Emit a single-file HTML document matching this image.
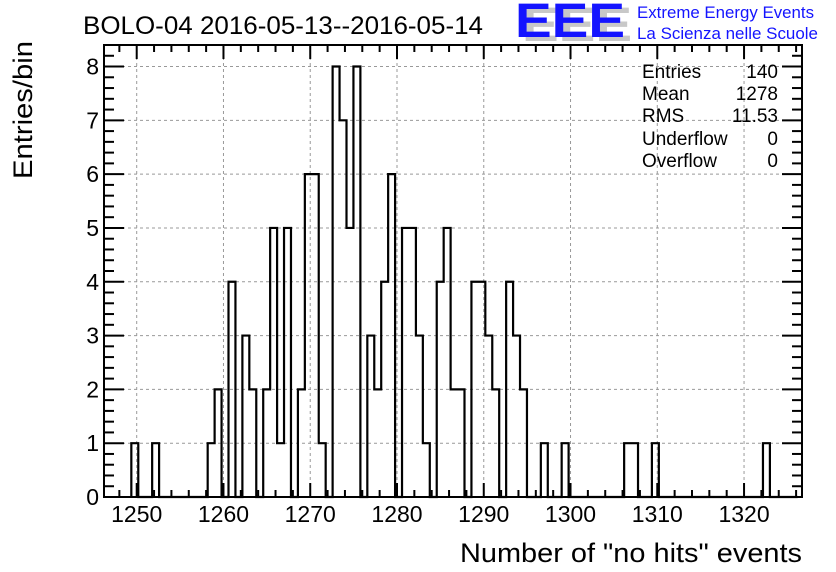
<!DOCTYPE html>
<html><head><meta charset="utf-8"><style>
body{margin:0;background:#fff;}
svg{display:block;font-family:"Liberation Sans",sans-serif;}
</style></head><body>
<svg id="chart" width="836" height="572" viewBox="0 0 836 572">
<text x="83" y="34" font-size="25" textLength="400" lengthAdjust="spacingAndGlyphs">BOLO-04 2016-05-13--2016-05-14</text>
<g>
<text x="522" y="41" font-size="48" font-weight="bold" fill="#c8c8c8" textLength="110" lengthAdjust="spacingAndGlyphs">EEE</text>
<text x="515" y="37" font-size="48" font-weight="bold" fill="#1414ff" textLength="110" lengthAdjust="spacingAndGlyphs">EEE</text>
<text x="637" y="18" font-size="17" fill="#1414ff" textLength="177" lengthAdjust="spacingAndGlyphs">Extreme Energy Events</text>
<text x="637" y="39" font-size="17" fill="#1414ff" textLength="181" lengthAdjust="spacingAndGlyphs">La Scienza nelle Scuole</text>
</g>
<g id="grid"></g>
<g id="hist"></g>
<rect x="104" y="45" width="698" height="452" fill="none" stroke="#000" stroke-width="2"/>
<g id="axes"></g>
<text transform="translate(32,110) rotate(-90)" text-anchor="middle" font-size="27" textLength="138" lengthAdjust="spacingAndGlyphs">Entries/bin</text>
<text x="802" y="562" text-anchor="end" font-size="27" textLength="342" lengthAdjust="spacingAndGlyphs">Number of "no hits" events</text>
<g font-size="19">
<text x="642" y="78">Entries</text><text x="778" y="78" text-anchor="end">140</text>
<text x="642" y="100">Mean</text><text x="778" y="100" text-anchor="end">1278</text>
<text x="642" y="122">RMS</text><text x="778" y="122" text-anchor="end">11.53</text>
<text x="642" y="145">Underflow</text><text x="778" y="145" text-anchor="end">0</text>
<text x="642" y="167">Overflow</text><text x="778" y="167" text-anchor="end">0</text>
</g>
</svg>
<script>
const binStart = 1249.38;
const binWidth = 0.8;
const binIndex = [0,3,11,12,14,16,17,19,20,21,22,24,25,26,27,29,30,31,32,34,35,36,37,39,40,41,42,44,45,46,47,49,50,51,52,54,55,56,59,62,71,72,75,91];
const binCounts = [1,1,1,2,4,3,2,2,5,1,5,2,6,6,1,8,7,5,8,3,2,4,6,5,5,3,1,4,5,2,2,4,4,3,2,4,3,2,1,1,1,1,1,1];
const xTicks = [1250,1260,1270,1280,1290,1300,1310,1320];
const yTicks = [0,1,2,3,4,5,6,7,8];
const NS = "http://www.w3.org/2000/svg";
const X0=104,X1=802,Y0=497,Y1=45, xmin=1246.23, xmax=1326.68, ymin=0, ymax=8.4;
const xs = v => X0+(v-xmin)/(xmax-xmin)*(X1-X0);
const ys = v => Y0-(v-ymin)/(ymax-ymin)*(Y0-Y1);
function mk(tag, attrs, parent){const e=document.createElementNS(NS,tag);for(const k in attrs)e.setAttribute(k,attrs[k]);parent.appendChild(e);return e;}
const grid=document.getElementById('grid'), axes=document.getElementById('axes'), hist=document.getElementById('hist');
xTicks.forEach(t=>{
  const g=mk('line',{x1:xs(t),x2:xs(t),y1:Y1,y2:Y0,stroke:'#999','stroke-dasharray':'3,3','stroke-width':1},grid);
  
  
  const l=mk('text',{x:xs(t),y:522,'text-anchor':'middle','font-size':23},axes);
  l.textContent=t;
  
  
});
for(let v=1248; v<=1326; v+=2){
  const major = v%10===0;
  const len = major?14:7;
  mk('line',{x1:xs(v),x2:xs(v),y1:Y0,y2:Y0-len,stroke:'#000','stroke-width':2},axes);
  mk('line',{x1:xs(v),x2:xs(v),y1:Y1,y2:Y1+len,stroke:'#000','stroke-width':2},axes);
}
yTicks.forEach(t=>{
  if(t>0){
    const g=mk('line',{x1:X0,x2:X1,y1:ys(t),y2:ys(t),stroke:'#999','stroke-dasharray':'3,3','stroke-width':1},grid);
    
    
  }
  const l=mk('text',{x:99,y:ys(t)+8,'text-anchor':'end','font-size':23},axes);
  l.textContent=t;
  
  
});
for(let v=0; v<=8.4; v+=0.2){
  const major=Math.abs(v-Math.round(v))<1e-6;
  const len=major?20:10;
  mk('line',{x1:X0,x2:X0+len,y1:ys(v),y2:ys(v),stroke:'#000','stroke-width':2},axes);
  mk('line',{x1:X1,x2:X1-len,y1:ys(v),y2:ys(v),stroke:'#000','stroke-width':2},axes);
}
const nb = 100;
const counts = new Array(nb).fill(0);
binIndex.forEach((b,i)=>{counts[b]=binCounts[i];});
let d = `M${xs(binStart)},${ys(0)}`;
for(let i=0;i<nb;i++){
  const xa=xs(binStart+i*binWidth), xb=xs(binStart+(i+1)*binWidth);
  if(xb>X1) break;
  d+=` L${xa},${ys(counts[i])} L${xb},${ys(counts[i])}`;
}
const p=mk('path',{d:d,fill:'none',stroke:'#000','stroke-width':2.2},hist);


</script>
</body></html>
